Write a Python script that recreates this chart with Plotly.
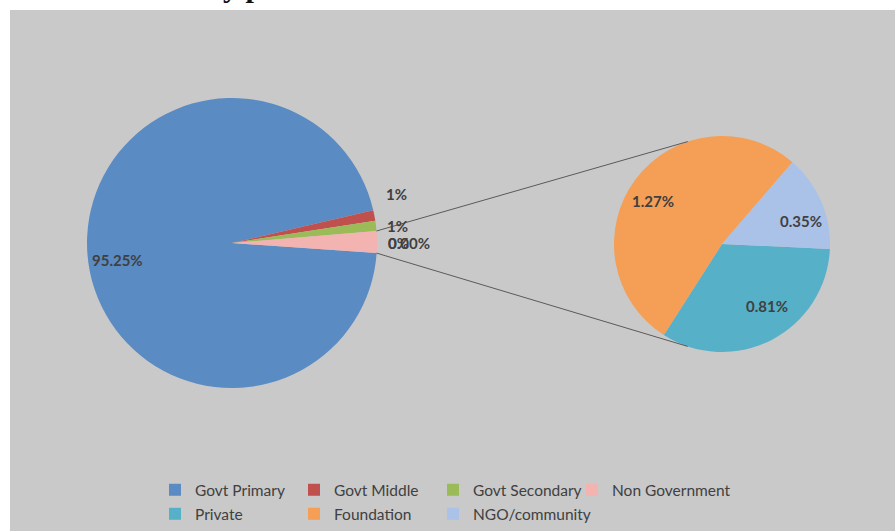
import math
import plotly.graph_objects as go

# ---------------- data ----------------
main_labels = ["Govt Primary", "Govt Middle", "Govt Secondary", "Non Government"]
main_values = [95.25, 1.20, 1.12, 2.43]
main_label_text = ["95.25%", "1%", "1%", "0%", "0.00%"]

sub_labels = ["Private", "Foundation", "NGO/community"]
sub_values = [0.81, 1.27, 0.35]
sub_label_text = ["0.81%", "1.27%", "0.35%"]

main_colors = ["#5B8BC3", "#C0504D", "#9BBB59", "#F2B3B1"]
sub_colors = ["#56B0C8", "#F49E56", "#AAC1E8"]

# ---------------- layout helpers ----------------
W, H = 895, 531
ML, MT = 10, 10
PW, PH = W - ML, H - MT


def px_x(x):
    return (x - ML) / PW


def px_y(y):
    return 1 - (y - MT) / PH


def dom(cx, cy, r):
    return dict(x=[px_x(cx - r), px_x(cx + r)], y=[px_y(cy + r), px_y(cy - r)])


MCX, MCY, MR = 232, 243, 145
SCX, SCY, SR = 722, 244, 108
MAIN_ROT = 94
SUB_ROT = 92.6
TXT = "#404040"
FONT = "Lato"

fig = go.Figure()

fig.add_trace(go.Pie(
    labels=main_labels, values=main_values, textinfo="none",
    marker=dict(colors=main_colors, line=dict(width=0)),
    sort=False, direction="clockwise", rotation=MAIN_ROT,
    domain=dom(MCX, MCY, MR), legend="legend",
    hoverinfo="label+percent", showlegend=True,
))

fig.add_trace(go.Pie(
    labels=sub_labels, values=sub_values, textinfo="none",
    marker=dict(colors=sub_colors, line=dict(width=0)),
    sort=False, direction="clockwise", rotation=SUB_ROT,
    domain=dom(SCX, SCY, SR), legend="legend2",
    hoverinfo="label+percent",
))

# connector lines from the "other" slice to the secondary pie
tot = sum(main_values)
a_start = math.radians(MAIN_ROT + 360 * (tot - main_values[-1]) / tot)
a_end = math.radians(MAIN_ROT)
p1 = (MCX + MR * math.sin(a_start), MCY - MR * math.cos(a_start))
p2 = (MCX + MR * math.sin(a_end), MCY - MR * math.cos(a_end))
b = math.radians(18.5)
q1 = (SCX - SR * math.sin(b), SCY - SR * math.cos(b))
q2 = (SCX - SR * math.sin(b), SCY + SR * math.cos(b))

shapes = [
    dict(type="rect", xref="paper", yref="paper", x0=0, x1=1, y0=0, y1=1,
         fillcolor="#C9C9C9", line=dict(width=0), layer="below"),
    dict(type="line", xref="paper", yref="paper", x0=px_x(p1[0]), y0=px_y(p1[1]),
         x1=px_x(q1[0]), y1=px_y(q1[1]), line=dict(color="#5A5A5A", width=1)),
    dict(type="line", xref="paper", yref="paper", x0=px_x(p2[0]), y0=px_y(p2[1]),
         x1=px_x(q2[0]), y1=px_y(q2[1]), line=dict(color="#5A5A5A", width=1)),
]

# data label positions (pixels) and anchors
main_label_pos = [(117, 260, "center"), (396, 194, "center"), (397, 226, "center"),
                  (386, 243, "left"), (386, 243, "left")]
sub_label_pos = [(767, 306, "center"), (653, 201, "center"), (801, 221, "center")]

annotations = []
for t, (x, y, anc) in list(zip(main_label_text, main_label_pos)) + \
        list(zip(sub_label_text, sub_label_pos)):
    annotations.append(dict(
        text=t, xref="paper", yref="paper", x=px_x(x), y=px_y(y),
        showarrow=False, xanchor=anc, yanchor="middle",
        font=dict(family=FONT, size=15, color=TXT, weight="bold")))

# clipped title fragment at very top
annotations.append(dict(
    text="<b>y p</b>", xref="paper", yref="paper", x=px_x(242), y=1 + (MT - 5) / PH,
    showarrow=False, xanchor="center", yanchor="bottom",
    font=dict(family="Liberation Serif", size=30, color="#111111")))

# invisible (non-breaking space) legend title widens the legend box so the
# last entry's text is not clipped
pad_title = dict(text="\u00a0" * 620, side="top", font=dict(size=4, family=FONT))

leg_common = dict(orientation="h", xanchor="left", yanchor="bottom",
                  entrywidth=94, entrywidthmode="pixels",
                  bgcolor="rgba(0,0,0,0)", traceorder="normal",
                  title=pad_title,
                  font=dict(family=FONT, size=15.5, color=TXT))

fig.update_layout(
    width=W, height=H,
    margin=dict(l=ML, r=0, t=MT, b=0),
    paper_bgcolor="white",
    shapes=shapes,
    annotations=annotations,
    showlegend=True,
    legend=dict(x=px_x(155), y=px_y(507), **leg_common),
    legend2=dict(x=px_x(155), y=0, **leg_common),
)

fig.write_html("out.html", config={"displayModeBar": False},
               post_script="document.body.style.margin='0';")
